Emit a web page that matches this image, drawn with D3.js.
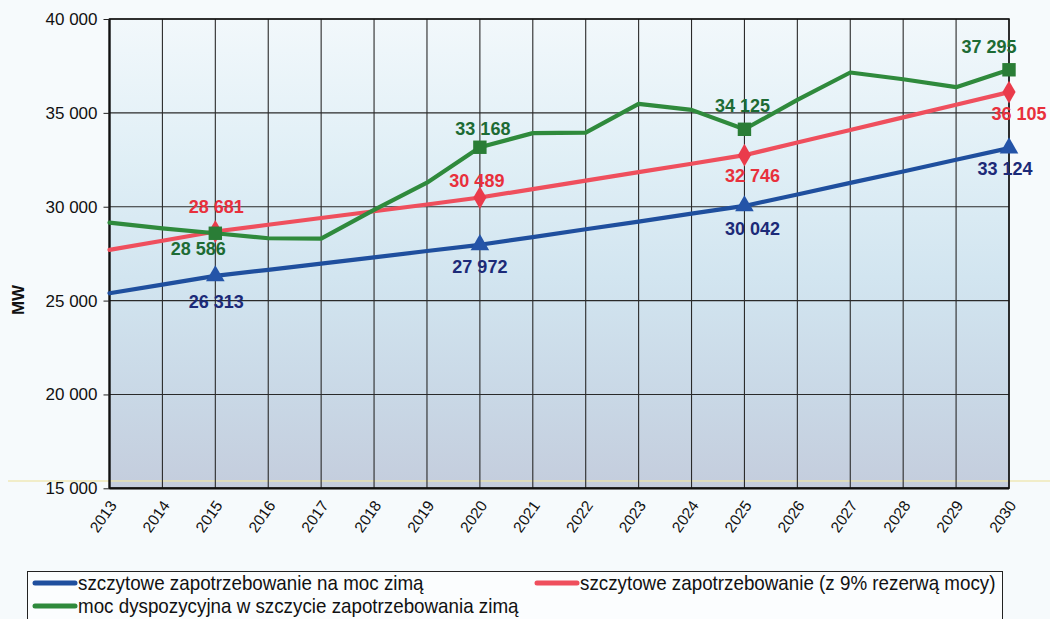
<!DOCTYPE html>
<html><head><meta charset="utf-8">
<script src="https://cdn.jsdelivr.net/npm/d3@7"></script>
<style>html,body{margin:0;padding:0;background:#f6fafc;}svg{display:block;}</style>
</head><body>
<svg id="c" width="1050" height="619"></svg>
<script>
const years = [2013,2014,2015,2016,2017,2018,2019,2020,2021,2022,2023,2024,2025,2026,2027,2028,2029,2030];
const blueValues  = [25390,25850,26313,26640,26970,27300,27640,27972,28380,28800,29210,29630,30042,30650,31270,31880,32500,33124];
const redValues   = [27700,28190,28681,29040,29400,29760,30120,30489,30940,31390,31840,32290,32746,33420,34090,34760,35430,36105];
const greenValues = [29150,28850,28586,28320,28300,29830,31280,33168,33920,33950,35480,35160,34125,35690,37150,36790,36370,37295];
const markerYears = [2015,2020,2025,2030];
const yTicks = [15000,20000,25000,30000,35000,40000];
const seriesNames = ["szczytowe zapotrzebowanie na moc zimą","szczytowe zapotrzebowanie (z 9% rezerwą mocy)","moc dyspozycyjna w szczycie zapotrzebowania zimą"];
const yTitle = "MW";

const svg = d3.select("#c");
const W=1050,H=619;
const L=109.5,R=1009,T=19,B=488.3;
const x = d3.scaleLinear().domain([2013,2030]).range([L,R]);
const y = d3.scaleLinear().domain([15000,40000]).range([B,T]);
const loc = d3.formatLocale({decimal:",",thousands:" ",grouping:[3],currency:["",""]});
const fmt = loc.format(",");

const defs = svg.append("defs");
const pg = defs.append("linearGradient").attr("id","bgp").attr("x1",0).attr("y1",0).attr("x2",0).attr("y2",1);
[[0,"#f2f8fb"],[0.3,"#e0eff6"],[0.55,"#d2e5f0"],[0.8,"#c9d8e6"],[1,"#c4cddd"]].forEach(s=>pg.append("stop").attr("offset",s[0]).attr("stop-color",s[1]));

svg.append("rect").attr("width",W).attr("height",H).attr("fill","#f6fafc");
svg.append("rect").attr("x",L).attr("y",T).attr("width",R-L).attr("height",B-T).attr("fill","url(#bgp)");
svg.append("line").attr("x1",8).attr("x2",W).attr("y1",481).attr("y2",481).attr("stroke","#efe6a8").attr("stroke-width",1.5).attr("opacity",0.8);

const g = svg.append("g");
g.selectAll(".vg").data(years).join("line").attr("x1",d=>x(d)).attr("x2",d=>x(d)).attr("y1",T).attr("y2",B).attr("stroke","#2a2a2a").attr("stroke-width",1.1);
g.selectAll(".hg").data(yTicks).join("line").attr("x1",L).attr("x2",R).attr("y1",d=>y(d)).attr("y2",d=>y(d)).attr("stroke","#2a2a2a").attr("stroke-width",1.1);
svg.append("rect").attr("x",L).attr("y",T).attr("width",R-L).attr("height",B-T).attr("fill","none").attr("stroke","#111").attr("stroke-width",1.5);
svg.append("line").attr("x1",L).attr("x2",L).attr("y1",T).attr("y2",B).attr("stroke","#111").attr("stroke-width",2.2);
svg.append("line").attr("x1",L).attr("x2",R).attr("y1",B).attr("y2",B).attr("stroke","#111").attr("stroke-width",2.2);

const ya = svg.append("g").attr("transform",`translate(${L},0)`).call(d3.axisLeft(y).tickValues(yTicks).tickFormat(fmt).tickSize(6).tickPadding(6));
ya.select(".domain").remove();
ya.selectAll("line").attr("stroke","#222");
ya.selectAll("text").attr("font-family","Liberation Sans, Arial, sans-serif").attr("font-size",17).attr("fill","#111");

const xa = svg.append("g").attr("transform",`translate(0,${B})`).call(d3.axisBottom(x).tickValues(years).tickFormat(d3.format("d")).tickSize(0));
xa.select(".domain").remove();
xa.selectAll("text").attr("font-family","Liberation Sans, Arial, sans-serif").attr("font-size",15.5).attr("fill","#111")
  .attr("text-anchor","end").attr("transform","translate(3,14) rotate(-55)").attr("dy","0.35em").attr("y",0).attr("x",0);

svg.append("text").attr("transform","translate(24,300) rotate(-90)").attr("text-anchor","middle")
  .attr("font-family","Liberation Sans, Arial, sans-serif").attr("font-weight","bold").attr("font-size",17).attr("fill","#111").text(yTitle);

const series = [
  {vals:blueValues, line:"#1f4f9e", mark:"#2454a8", lab:"#1c2a78", shape:d3.symbolTriangle, labOff:[[1,32],[0,28],[8,29],[-4,27]]},
  {vals:redValues, line:"#ef4f5d", mark:"#ea3b4b", lab:"#e8303c", shape:d3.symbolDiamond, labOff:[[1,-18],[-3,-11],[8,27],[10,28]]},
  {vals:greenValues, line:"#2f8a3c", mark:"#2a7d36", lab:"#1d6b34", shape:d3.symbolSquare, labOff:[[-17,22],[3,-12],[-2,-17],[-20,-17]]}
];
const lineGen = d3.line().x((d,i)=>x(years[i])).y(d=>y(d));
series.forEach(s=>{
  svg.append("path").datum(s.vals).attr("d",lineGen).attr("fill","none").attr("stroke",s.line).attr("stroke-width",4.2).attr("stroke-linejoin","round").attr("stroke-linecap","round");
});
series.forEach(s=>{
  const pts = markerYears.map(yr=>({yr, v:s.vals[years.indexOf(yr)]}));
  svg.selectAll(null).data(pts).join("path")
    .attr("d",d3.symbol().type(s.shape).size(s.shape===d3.symbolSquare?180:150))
    .attr("transform",d=>`translate(${x(d.yr)},${y(d.v)})`).attr("fill",s.mark);
});
series.forEach(s=>{
  const pts = markerYears.map((yr,i)=>({yr, v:s.vals[years.indexOf(yr)], o:s.labOff[i]}));
  svg.selectAll(null).data(pts).join("text")
    .attr("x",d=>x(d.yr)+d.o[0]).attr("y",d=>y(d.v)+d.o[1]).attr("text-anchor","middle")
    .attr("font-family","Liberation Sans, Arial, sans-serif").attr("font-weight","bold").attr("font-size",18)
    .attr("fill",s.lab).text(d=>fmt(d.v));
});

const lg = svg.append("g");
lg.append("rect").attr("x",27.5).attr("y",571.5).attr("width",975).attr("height",60).attr("fill","#fbfdfe").attr("stroke","#222").attr("stroke-width",1);
const legItems = [
  {name:seriesNames[0], color:"#1f4f9e", lx:35, ty:583},
  {name:seriesNames[1], color:"#ef4f5d", lx:537, ty:583},
  {name:seriesNames[2], color:"#2f8a3c", lx:35, ty:606}
];
legItems.forEach(it=>{
  lg.append("line").attr("x1",it.lx).attr("x2",it.lx+40).attr("y1",it.ty).attr("y2",it.ty).attr("stroke",it.color).attr("stroke-width",5).attr("stroke-linecap","round");
  lg.append("text").attr("transform",`translate(${it.lx+43},${it.ty}) scale(0.94,1)`).attr("dy","0.35em")
    .attr("font-family","Liberation Sans, Arial, sans-serif").attr("font-size",20).attr("fill","#111").text(it.name);
});
</script>
</body></html>
